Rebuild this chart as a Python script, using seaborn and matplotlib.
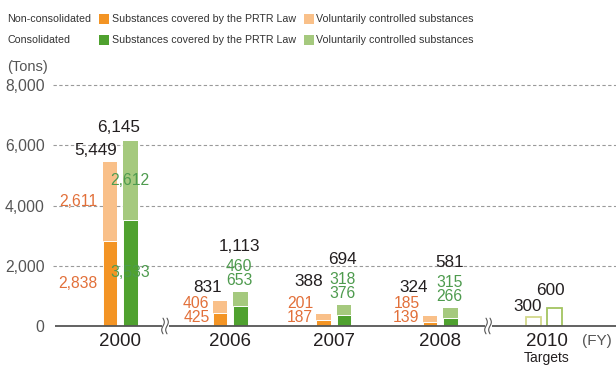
import numpy as np
import pandas as pd
import matplotlib
matplotlib.use("Agg")
import matplotlib.pyplot as plt
import seaborn as sns
from matplotlib.patches import Rectangle

# ---------------- data ----------------
years = ["2000", "2006", "2007", "2008"]
nc_prtr = [2838, 425, 187, 139]
nc_vol = [2611, 406, 201, 185]
nc_total = [5449, 831, 388, 324]
c_prtr = [3533, 653, 376, 266]
c_vol = [2612, 460, 318, 315]
c_total = [6145, 1113, 694, 581]
target_year = "2010"
target_values = [300, 600]
yticks = [0, 2000, 4000, 6000, 8000]
legend_rows = ["Non-consolidated", "Consolidated"]
legend_items = ["Substances covered by the PRTR Law", "Voluntarily controlled substances"]

# ---------------- style / layout ----------------
W, H = 616, 365
C_OR_D, C_OR_L = "#F39424", "#F9C089"
C_GR_D, C_GR_L = "#4FA12F", "#A5C97E"
C_T1, C_T2 = "#D2D88A", "#A3C460"
TXT_OR, TXT_GR, TXT_K, TXT_G = "#E2703A", "#4E9B4E", "#231F20", "#555555"
group_x = [120, 230, 333.5, 440]
target_x = 544
dx = 10.25
bar_w = 14.5
FONT = "Liberation Sans"
LEG_SIZE = 7.7

sns.set_theme(style="white")
plt.rcParams["font.family"] = [FONT, "DejaVu Sans"]

fig = plt.figure(figsize=(W / 100, H / 100), dpi=100)
ax = fig.add_axes([53 / W, 1 - 326 / H, (W - 53) / W, (326 - 85) / H])

pal = {"nc_vol": C_OR_L, "c_vol": C_GR_L, "nc_prtr": C_OR_D, "c_prtr": C_GR_D,
       "t1": C_T1, "t2": C_T2}

xs = [g - dx for g in group_x] + [g + dx for g in group_x]
tops = [a + b for a, b in zip(nc_prtr, nc_vol)] + [a + b for a, b in zip(c_prtr, c_vol)]
df_top = pd.DataFrame({"x": xs, "v": tops, "k": ["nc_vol"] * 4 + ["c_vol"] * 4})
df_bot = pd.DataFrame({"x": xs, "v": nc_prtr + c_prtr, "k": ["nc_prtr"] * 4 + ["c_prtr"] * 4})
df_tgt = pd.DataFrame({"x": [target_x - dx, target_x + dx], "v": target_values, "k": ["t1", "t2"]})

wrel = bar_w / (2 * dx)
sns.barplot(data=df_top, x="x", y="v", hue="k", palette=pal, native_scale=True, dodge=False,
            width=wrel, errorbar=None, legend=False, saturation=1, linewidth=0, ax=ax, zorder=3)
sns.barplot(data=df_bot, x="x", y="v", hue="k", palette=pal, native_scale=True, dodge=False,
            width=wrel, errorbar=None, legend=False, saturation=1, linewidth=0.7,
            edgecolor="white", ax=ax, zorder=4)
sns.barplot(data=df_tgt, x="x", y="v", hue="k", palette=pal, native_scale=True, dodge=False,
            width=wrel * 1.05, errorbar=None, legend=False, saturation=1, fill=False,
            linewidth=1.3, ax=ax, zorder=4)

ax.set_xlim(53, W)
ax.set_ylim(0, 8000)
for s in ax.spines.values():
    s.set_visible(False)
ax.set_xlabel("")
ax.set_ylabel("")
ax.set_xticks([])
ax.set_yticks(yticks)
ax.set_yticklabels([f"{v:,}" for v in yticks])
ax.tick_params(axis="y", length=0, pad=6, labelcolor=TXT_G, labelsize=11.3)
ax.grid(False)
for v in yticks[1:]:
    ax.axhline(v, color="#9a9a9a", lw=0.8, ls=(0, (3, 2.2)), zorder=1, clip_on=False)
ax.plot([55, W], [0, 0], color="#555555", lw=1.3, zorder=6, clip_on=False, solid_capstyle="butt")

# axis break marks
for bx in [165, 488]:
    ax.add_patch(Rectangle((bx - 3.5, -230), 7, 460, facecolor="white", edgecolor="none",
                           zorder=7, clip_on=False))
    t = np.linspace(-1, 1, 40)
    for off in (-2, 2):
        ax.plot(bx + off + 1.3 * np.sin(t * np.pi), t * 260, color="#555555", lw=0.8,
                zorder=8, clip_on=False)

def lab(x, y, s, dy_px, color, size, ha="center"):
    ax.annotate(s, xy=(x, y), xytext=(0, dy_px), textcoords="offset pixels",
                ha=ha, va="center", color=color, fontsize=size, zorder=9, annotation_clip=False)

S_SEG, S_TOT = 11.3, 12.3
# 2000 group: labels at segment midpoints
i = 0
ox, gx = group_x[i] - dx, group_x[i] + dx
lab(ox - bar_w / 2 - 5, nc_prtr[i] / 2, f"{nc_prtr[i]:,}", 0, TXT_OR, S_SEG, "right")
lab(ox - bar_w / 2 - 5, nc_prtr[i] + nc_vol[i] / 2, f"{nc_vol[i]:,}", 0, TXT_OR, S_SEG, "right")
lab(ox + bar_w / 2, nc_prtr[i] + nc_vol[i], f"{nc_total[i]:,}", 11, TXT_K, S_TOT, "right")
lab(gx, c_prtr[i] / 2, f"{c_prtr[i]:,}", 0, TXT_GR, S_SEG)
lab(gx, c_prtr[i] + c_vol[i] / 2, f"{c_vol[i]:,}", 0, TXT_GR, S_SEG)
lab(gx + bar_w / 2 + 2, c_prtr[i] + c_vol[i], f"{c_total[i]:,}", 13, TXT_K, S_TOT, "right")

# small groups: stacked labels
nc_tot_dy = [38, 45, 38]
nc_tot_dx = [-5, -7, -9]
for j, i in enumerate(range(1, 4)):
    ox, gx = group_x[i] - dx, group_x[i] + dx
    ax.annotate(f"{nc_prtr[i]:,}", xy=(ox - bar_w / 2 - 3, 0), xytext=(0, 8), textcoords="offset pixels",
                ha="right", va="center", color=TXT_OR, fontsize=S_SEG, zorder=9)
    ax.annotate(f"{nc_vol[i]:,}", xy=(ox - bar_w / 2 - 3, 0), xytext=(0, 23), textcoords="offset pixels",
                ha="right", va="center", color=TXT_OR, fontsize=S_SEG, zorder=9)
    ax.annotate(f"{nc_total[i]:,}", xy=(ox + bar_w / 2 + nc_tot_dx[j], 0), xytext=(0, nc_tot_dy[j]),
                textcoords="offset pixels", ha="right", va="center", color=TXT_K, fontsize=S_TOT, zorder=9)
    top = c_prtr[i] + c_vol[i]
    lab(gx - 1, top, f"{c_prtr[i]:,}", 12, TXT_GR, S_SEG)
    lab(gx - 1, top, f"{c_vol[i]:,}", 26, TXT_GR, S_SEG)
    lab(gx - 1, top, f"{c_total[i]:,}", 46, TXT_K, S_TOT)

# targets
lab(target_x - dx + bar_w / 2 + 0.5, target_values[0], f"{target_values[0]:,}", 10, TXT_K, S_TOT, "right")
lab(target_x + dx - 4, target_values[1], f"{target_values[1]:,}", 17, TXT_K, S_TOT)

# x labels
for g, y in zip(group_x, years):
    ax.annotate(y, xy=(g, 0), xytext=(0, -15), textcoords="offset pixels", ha="center", va="center",
                color=TXT_K, fontsize=13.5, annotation_clip=False)
ax.annotate(target_year, xy=(target_x + 3, 0), xytext=(0, -15), textcoords="offset pixels",
            ha="center", va="center", color=TXT_K, fontsize=13.5, annotation_clip=False)
ax.annotate("Targets", xy=(target_x + 3, 0), xytext=(0, -32), textcoords="offset pixels",
            ha="center", va="center", color=TXT_K, fontsize=10, annotation_clip=False)
ax.annotate("(FY)", xy=(597, 0), xytext=(0, -15), textcoords="offset pixels", ha="center", va="center",
            color=TXT_G, fontsize=11, annotation_clip=False)

fig.text(7 / W, 1 - 67 / H, "(Tons)", ha="left", va="center", color=TXT_G, fontsize=10.5)

# legend
row_y = [18.5, 40]
row_cols = [(C_OR_D, C_OR_L), (C_GR_D, C_GR_L)]
for ry, name, cols in zip(row_y, legend_rows, row_cols):
    fy = 1 - ry / H
    fig.text(7 / W, fy, name, ha="left", va="center", color="#333333", fontsize=LEG_SIZE)
    for sx, tx, c, item in zip([99, 304], [112, 316], cols, legend_items):
        fig.patches.append(Rectangle((sx / W, 1 - (ry + 5) / H), 10 / W, 10 / H,
                                     facecolor=c, edgecolor="none", transform=fig.transFigure,
                                     figure=fig))
        fig.text(tx / W, fy, item, ha="left", va="center", color="#333333", fontsize=LEG_SIZE)

fig.savefig("out.png", dpi=100, facecolor="white")
